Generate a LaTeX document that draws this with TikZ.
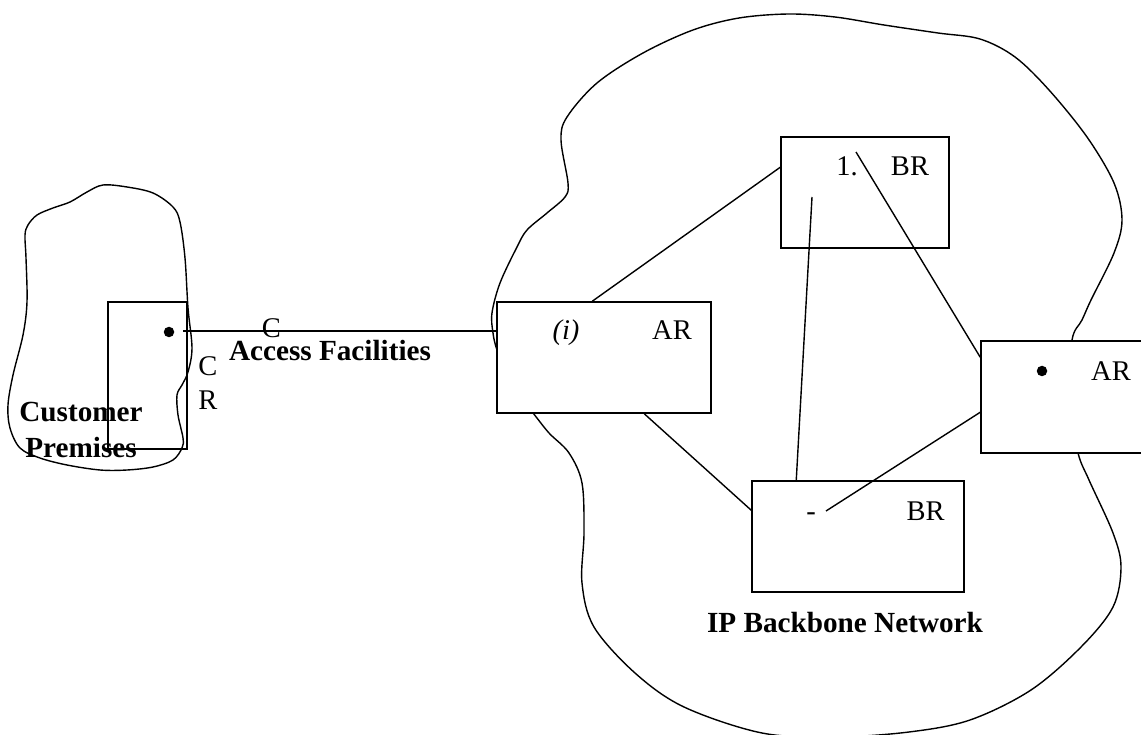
\documentclass[tikz,border=0pt]{standalone}
\usepackage{fontspec}
\setmainfont{Liberation Serif}
\usetikzlibrary{calc}
\begin{document}
\begin{tikzpicture}[x=1pt,y=-1pt,
  outline/.style={draw=black, line width=1.4pt, line join=round},
  box/.style={draw=black, fill=white, line width=1.5pt, rectangle, inner sep=0pt},
  openbox/.style={draw=black, line width=1.5pt, rectangle, inner sep=0pt},
  link/.style={draw=black, line width=1.4pt},
  lbl/.style={inner sep=0pt, anchor=base, font=\fontsize{28.5}{34}\selectfont},
  ilbl/.style={inner sep=0pt, anchor=base, font=\fontsize{28.5}{34}\selectfont\itshape},
  blbl/.style={inner sep=0pt, anchor=base, font=\fontsize{29.2}{35}\selectfont\bfseries},
  dotmark/.style={circle, fill=black, inner sep=0pt, minimum size=10.5pt}]
\useasboundingbox (0,0) rectangle (1141,735);
\clip (0,0) rectangle (1141,735);
% clouds
\draw[outline] plot[smooth cycle, tension=0.55] coordinates {
 (103,185) (127,187) (153,193) (173,207) (180,222) (185,258) (188,308) (192,348)
 (188,372) (182,385) (177,395) (178,415) (183,438) (182,448) (173,460) (153,467)
 (127,470) (100,470) (67,465) (40,458) (20,448) (10,428) (8,405) (13,375)
 (23,335) (27,302) (26,258) (25,235) (28,225) (37,215) (53,208) (70,202) (87,192)};
\draw[outline] plot[smooth cycle, tension=0.55] coordinates {
 (789,14) (835,17) (884,25) (938,33) (980,39) (1015,57) (1049,90) (1087,137)
 (1114,183) (1122,220) (1114,253) (1091,300) (1082,320) (1072,340) (1068,400)
 (1078,453) (1089,480) (1113,533) (1121,567) (1113,607) (1081,647) (1031,690)
 (970,720) (909,732) (835,737) (762,733) (684,707) (635,673) (594,627) (582,583)
 (584,533) (582,483) (569,453) (549,433) (533,413) (510,385) (497,350) (493,333)
 (492,313) (500,283) (517,247) (527,230) (547,213) (565,197) (568,183) (561,140)
 (567,117) (597,83) (643,53) (693,30) (739,18)};
% boxes
\node[openbox, minimum width=79pt, minimum height=147pt] (cr) at (147.5,375.5) {};
\node[box, minimum width=214pt, minimum height=111pt] (arl) at (604,357.5) {};
\node[box, minimum width=168pt, minimum height=111pt] (brt) at (865,192.5) {};
\node[box, minimum width=170pt, minimum height=112pt] (arr) at (1066,397) {};
\node[box, minimum width=212pt, minimum height=111pt] (brb) at (858,536.5) {};
% dots
\node[dotmark] (crdot) at (169,332) {};
\node[dotmark] (ardot) at (1042,371) {};
% connector end points inside boxes
\coordinate (accS) at (183,331);
\coordinate (brtin) at (812,197);
\coordinate (brtone) at (856,152);
\coordinate (brbin) at (826,511);
% connectors
\draw[link] (accS) -- (accS -| arl.west);
\draw[link] ($(arl.north west)+(96,0)$) -- ($(brt.north west)+(0,31)$);
\draw[link] ($(arl.south west)+(148,0)$) -- ($(brb.north west)+(0,30)$);
\draw[link] (brtin) -- ($(brb.north west)+(45,0)$);
\draw[link] (brtone) -- ($(arr.north west)+(0,17)$);
\draw[link] (brbin) -- ($(arr.north west)+(0,72)$);
% labels
\node[ilbl] (ti) at (566,340) {(i)};
\node[lbl] (tarl) at (672,340) {AR};
\node[lbl] (tone) at (847,176) {1.};
\node[lbl] (tbrt) at (910,176) {BR};
\node[lbl] (tarr) at (1111,381) {AR};
\node[lbl] (tdash) at (811,520) {-};
\node[lbl] (tbrb) at (925.5,520) {BR};
\node[blbl] (tip) at (845,632) {IP Backbone Network};
\node[blbl] (tacc) at (330,361) {Access Facilities};
\node[lbl] (tc) at (271.5,338) {C};
\node[lbl] (tc2) at (208,375) {C};
\node[lbl] (tr2) at (208,409) {R};
\node[blbl] (tcust) at (81,421.7) {Customer};
\node[blbl] (tprem) at (81,457) {Premises};
\end{tikzpicture}
\end{document}
